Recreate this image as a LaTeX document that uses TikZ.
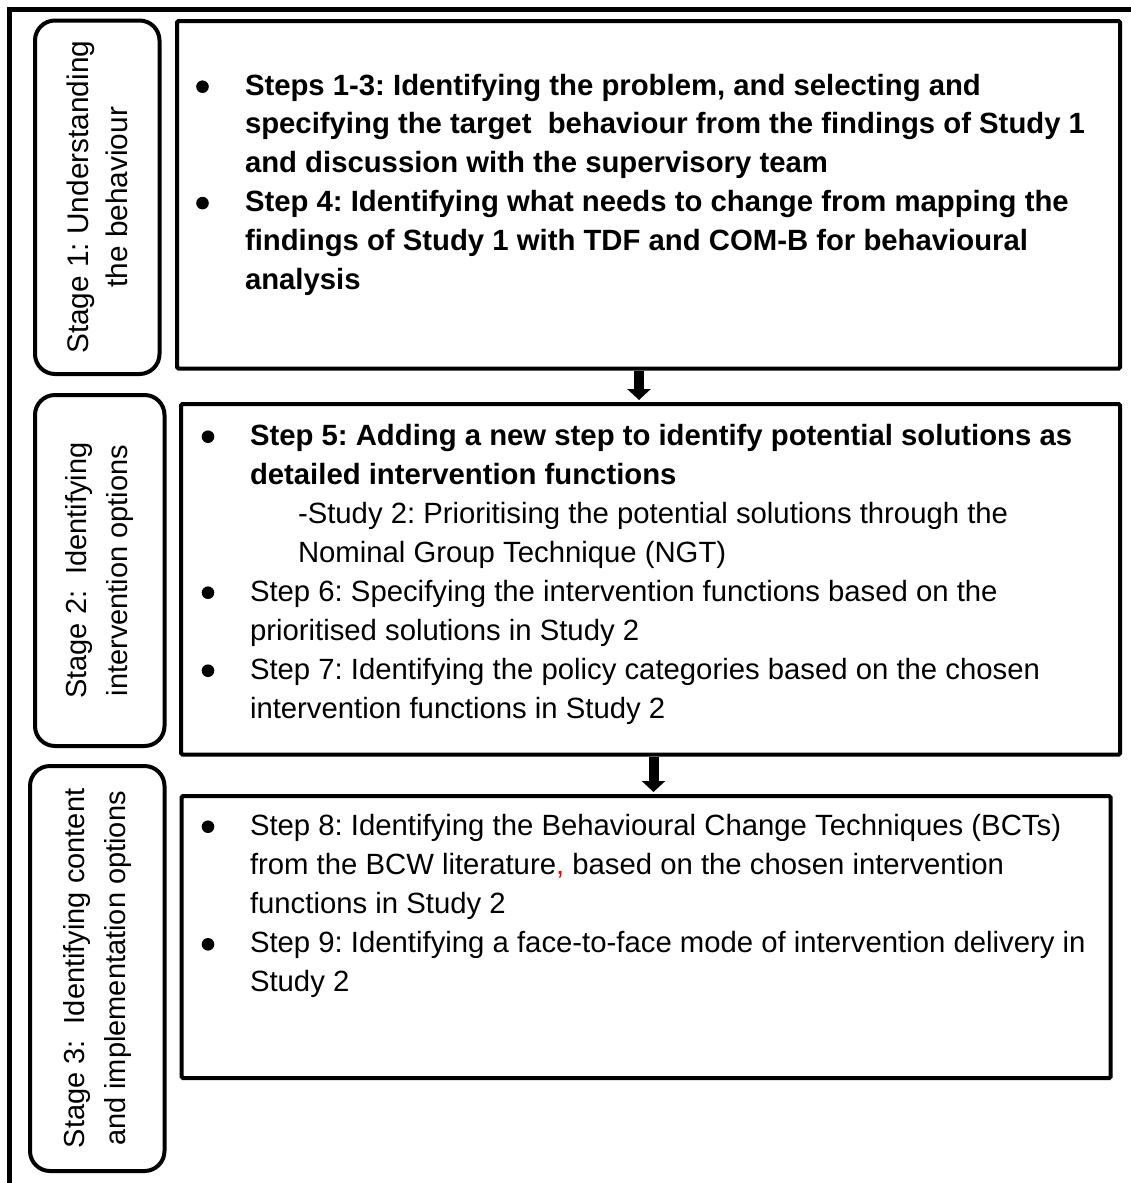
\documentclass[tikz,border=0pt]{standalone}
\usepackage{fontspec}
\setmainfont{Liberation Sans}
\usetikzlibrary{arrows.meta}
\tikzset{
  frame/.style={line width=4.5pt},
  stagebox/.style={draw, line width=4pt, rounded corners=20pt, rotate=90, align=center, inner sep=0pt},
  contentbox/.style={draw, line width=4.2pt, rounded corners=1.5pt, inner sep=0pt, anchor=north west},
  bodytext/.style={anchor=base west, inner sep=0pt, outer sep=0pt},
  flow/.style={line width=10pt, -{Triangle[width=23pt,length=11pt]}, shorten >=2pt},
  bulletdot/.style={fill=black}
}
\newcommand\bodyfont{\fontsize{29.3pt}{38.8pt}\selectfont}
\begin{document}
\frenchspacing
\begin{tikzpicture}[x=1pt,y=-1pt]
\useasboundingbox (0,0) rectangle (1131,1183);
\fill[white] (0,0) rectangle (1131,1183);

% outer frame (runs off the right and bottom edges)
\draw[frame] (9.5,1200) -- (9.5,9.5) -- (1150,9.5);

% stage labels
\node[stagebox, minimum width=353.5pt, minimum height=124.5pt,
      font=\frenchspacing\fontsize{29.8pt}{39.5pt}\selectfont] (s1) at (97.25,197.25)
  {Stage 1: Understanding\\the behaviour};
\node[stagebox, minimum width=351pt, minimum height=129.5pt,
      font=\frenchspacing\fontsize{29pt}{41pt}\selectfont] (s2) at (99.75,570.5)
  {Stage 2:\ \ Identifying\\intervention options};
\node[stagebox, minimum width=405pt, minimum height=134.5pt,
      font=\frenchspacing\fontsize{29pt}{41pt}\selectfont] (s3) at (97.25,968.5)
  {Stage 3:\ \ Identifying content\\and implementation options};

% content boxes
\node[contentbox, minimum width=943pt, minimum height=347.5pt] (b1) at (175,19) {};
\node[contentbox, minimum width=939pt, minimum height=350.5pt] (b2) at (179,402) {};
\node[contentbox, minimum width=929pt, minimum height=282pt] (b3) at (179.5,794) {};

% connectors
\coordinate (ax1) at (639,0);
\coordinate (ax2) at (653.5,0);
\draw[flow] (ax1 |- b1.south) -- (ax1 |- b2.north);
\draw[flow] (ax2 |- b2.south) -- (ax2 |- b3.north);

% texts
\node[bodytext] (t1) at (245,95) {\vtop{\hsize=900pt\frenchspacing\bodyfont\bfseries\noindent
Steps 1-3: Identifying the problem, and selecting and\\
specifying the target\ \ behaviour from the findings of Study 1\\
and discussion with the supervisory team\\
Step 4: Identifying what needs to change from mapping the\\
findings of Study 1 with TDF and COM-B for behavioural\\
analysis}};

\node[bodytext] (t2) at (250,445) {\vtop{\hsize=900pt\frenchspacing\fontsize{29.3pt}{39pt}\selectfont\noindent
{\bfseries Step 5: Adding a new step to identify potential solutions as}\\
{\bfseries detailed intervention functions}\\
\hspace*{48pt}-Study 2: Prioritising the potential solutions through the\\
\hspace*{48pt}Nominal Group Technique (NGT)\\
Step 6: Specifying the intervention functions based on the\\
prioritised solutions in Study 2\\
Step 7: Identifying the policy categories based on the chosen\\
intervention functions in Study 2}};

\node[bodytext] (t3) at (250,835) {\vtop{\hsize=900pt\frenchspacing\fontsize{29.3pt}{39.2pt}\selectfont\noindent
Step 8: Identifying the Behavioural Change Techniques (BCTs)\\
from the BCW literature{\color{red},} based on the chosen intervention\\
functions in Study 2\\
Step 9: Identifying a face-to-face mode of intervention delivery in\\
Study 2}};

% bullets
\foreach \bx/\by in {202.5/86.7, 202.5/203.1, 208/436.7, 208/592.7, 208/670.7, 208/826.7, 208/944.3}
  \fill[bulletdot] (\bx,\by) circle (6.3pt);
\end{tikzpicture}
\end{document}
